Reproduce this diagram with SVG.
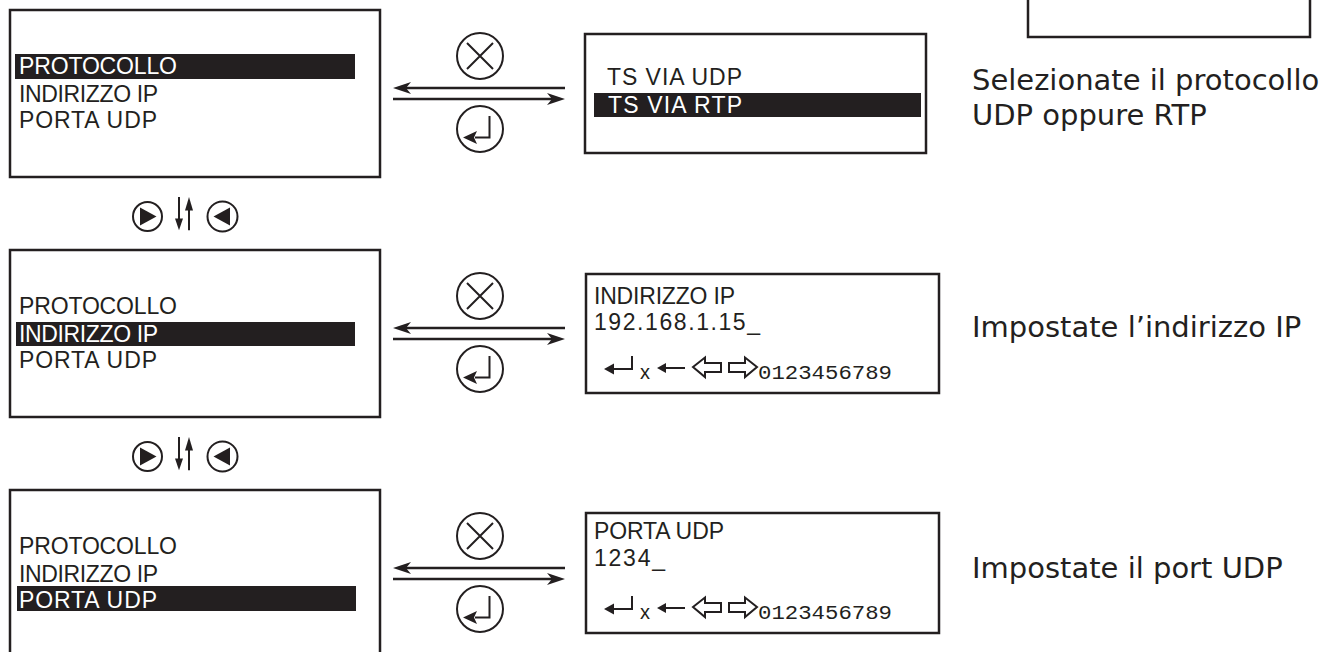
<svg xmlns="http://www.w3.org/2000/svg" width="1322" height="652" viewBox="0 0 1322 652">
<defs>
<style>
.box{fill:#fff;stroke:#231f20;stroke-width:2.5}
.bar{fill:#231f20}
.lcd{font-family:"Liberation Sans",Arial,sans-serif;font-size:23px;fill:#231f20}
.inv{fill:#fff}
.desc{font-family:"DejaVu Sans",Verdana,sans-serif;font-size:29px;fill:#231f20}
.conn{stroke:#231f20;stroke-width:2.5;fill:none}
.ic{fill:none;stroke:#231f20;stroke-width:2}
.icf{fill:#231f20;stroke:none}
.keyo{fill:#fff;stroke:#231f20;stroke-width:2;stroke-linejoin:miter}
.dig{font-family:"Liberation Mono",monospace;font-size:21px;fill:#231f20}
.sm{font-family:"Liberation Sans",Arial,sans-serif;font-size:20px;fill:#231f20}
</style>
<marker id="ah" viewBox="0 0 18 12" refX="8" refY="6" markerWidth="18" markerHeight="12" markerUnits="userSpaceOnUse" orient="auto">
<path d="M0,0 L18,6 L0,12 L5,6 Z" fill="#231f20"/>
</marker>
<g id="btnX">
<circle r="23" class="ic"/>
<path d="M-13,-13 L13,13 M13,-13 L-13,13" class="ic"/>
</g>
<g id="btnEnter">
<circle r="23" class="ic"/>
<path d="M9.5,-13 V8.5 H-5" class="ic"/>
<path d="M-17,8.5 L-3,2 L-6,8.5 L-3,15 Z" class="icf"/>
</g>
<g id="navIcons">
<circle cx="147.5" cy="0" r="14.5" class="ic"/>
<path d="M140,-9 L156.5,0 L140,9 Z" class="icf"/>
<path d="M179,-19.6 V4" class="ic"/>
<path d="M175,2 L183,2 L179,13.7 Z" class="icf"/>
<path d="M189,13.7 V-8" class="ic"/>
<path d="M185,-6 L193,-6 L189,-19.6 Z" class="icf"/>
<circle cx="222.5" cy="0" r="15" class="ic"/>
<path d="M213.5,0 L230,-9 L230,9 Z" class="icf"/>
</g>
<g id="keyRow">
<path d="M632,356 V369 H612" class="ic"/>
<path d="M604,369 L614,363.5 L614,374.5 Z" class="icf"/>
<text x="640" y="379" class="sm">x</text>
<path d="M664,368 H685" class="ic"/>
<path d="M657,368 L666,363 L666,373 Z" class="icf"/>
<path d="M693,367 L705,357.5 L705,363 L721,363 L721,372 L705,372 L705,377 Z" class="keyo"/>
<path d="M757,367 L745,357.5 L745,363 L729,363 L729,372 L745,372 L745,377 Z" class="keyo"/>
<text x="758" y="379" class="dig" textLength="134" lengthAdjust="spacingAndGlyphs">0123456789</text>
</g>
</defs>

<g id="partial-box">
<rect x="1028" y="-10" width="282" height="47" class="box"/>
</g>

<!-- Row 1 -->
<g id="menu1">
<rect x="10" y="10" width="370" height="167" class="box"/>
<rect x="15" y="54" width="340" height="25" class="bar"/>
<text x="19" y="74" class="lcd inv" textLength="158">PROTOCOLLO</text>
<text x="19" y="102" class="lcd" textLength="139">INDIRIZZO IP</text>
<text x="19" y="128" class="lcd" textLength="138">PORTA UDP</text>
</g>
<g id="proto-select">
<rect x="585" y="34" width="341" height="119" class="box"/>
<text x="607" y="85" class="lcd" textLength="135">TS VIA UDP</text>
<rect x="594" y="93" width="327" height="24" class="bar"/>
<text x="608" y="113" class="lcd inv" textLength="134">TS VIA RTP</text>
</g>
<g id="desc1">
<text x="972" y="90" class="desc">Selezionate il protocollo</text>
<text x="972" y="125" class="desc">UDP oppure RTP</text>
</g>
<g id="buttons1">
<use href="#btnX" x="480" y="56"/>
<use href="#btnEnter" x="480" y="129"/>
</g>

<g id="nav1">
<use href="#navIcons" x="0" y="216.5"/>
</g>

<!-- Row 2 -->
<g id="menu2">
<rect x="10" y="250" width="370" height="167" class="box"/>
<text x="19" y="314" class="lcd" textLength="158">PROTOCOLLO</text>
<rect x="16" y="322" width="339" height="24" class="bar"/>
<text x="19" y="342" class="lcd inv" textLength="139">INDIRIZZO IP</text>
<text x="19" y="368" class="lcd" textLength="138">PORTA UDP</text>
</g>
<g id="ip-edit">
<rect x="586" y="274" width="353" height="119" class="box"/>
<text x="594" y="304" class="lcd" textLength="141">INDIRIZZO IP</text>
<text x="594" y="330" class="lcd" textLength="166">192.168.1.15_</text>
<use href="#keyRow"/>
</g>
<g id="desc2">
<text x="972" y="337" class="desc">Impostate l’indirizzo IP</text>
</g>
<g id="buttons2">
<use href="#btnX" x="480" y="296"/>
<use href="#btnEnter" x="480" y="369"/>
</g>

<g id="nav2">
<use href="#navIcons" x="0" y="456.5"/>
</g>

<!-- Row 3 -->
<g id="menu3">
<rect x="10" y="490" width="370" height="200" class="box"/>
<text x="19" y="554" class="lcd" textLength="158">PROTOCOLLO</text>
<text x="19" y="582" class="lcd" textLength="139">INDIRIZZO IP</text>
<rect x="17" y="586" width="339" height="25" class="bar"/>
<text x="19" y="608" class="lcd inv" textLength="138">PORTA UDP</text>
</g>
<g id="port-edit">
<rect x="586" y="513" width="353" height="120" class="box"/>
<text x="594" y="539" class="lcd" textLength="130">PORTA UDP</text>
<text x="594" y="566" class="lcd" textLength="71">1234_</text>
<use href="#keyRow" y="240"/>
</g>
<g id="desc3">
<text x="972" y="578" class="desc">Impostate il port UDP</text>
</g>
<g id="buttons3">
<use href="#btnX" x="480" y="536"/>
<use href="#btnEnter" x="480" y="609"/>
</g>

<g id="connectors">
<line x1="565" y1="88" x2="403" y2="88" class="conn" marker-end="url(#ah)"/>
<line x1="393" y1="99" x2="555" y2="99" class="conn" marker-end="url(#ah)"/>
<line x1="565" y1="328" x2="403" y2="328" class="conn" marker-end="url(#ah)"/>
<line x1="393" y1="339" x2="555" y2="339" class="conn" marker-end="url(#ah)"/>
<line x1="565" y1="568" x2="403" y2="568" class="conn" marker-end="url(#ah)"/>
<line x1="393" y1="579" x2="555" y2="579" class="conn" marker-end="url(#ah)"/>
</g>
</svg>
